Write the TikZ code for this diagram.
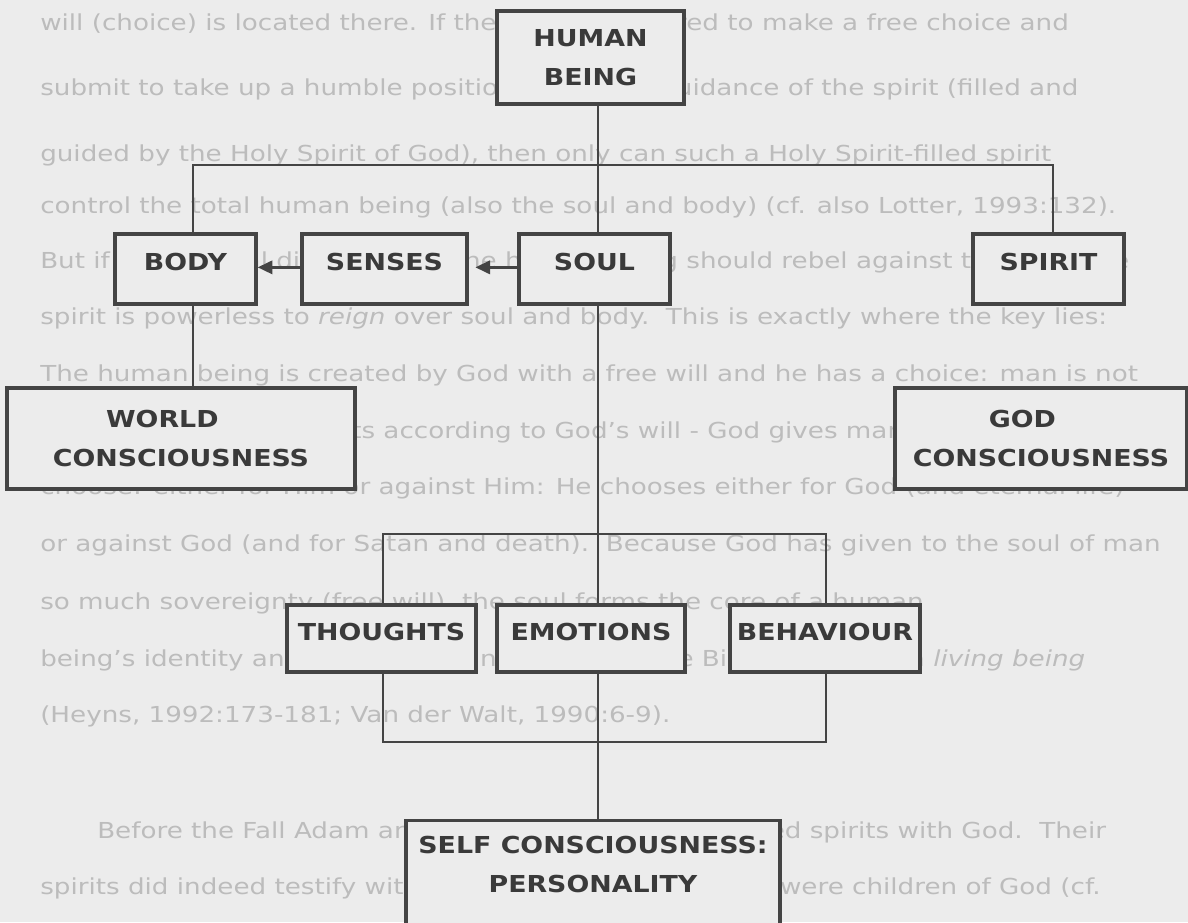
\documentclass[tikz,border=0pt]{standalone}
\usepackage{fontspec}
\setmainfont{DejaVu Sans}[FakeStretch=1.19]
\newfontfamily\labelfont{DejaVu Sans}[FakeStretch=1.15]
\usetikzlibrary{arrows.meta,calc}
\definecolor{paper}{RGB}{236,236,236}
\definecolor{faint}{RGB}{188,188,188}
\definecolor{ink}{RGB}{58,58,58}
\definecolor{rule}{RGB}{68,68,68}
\begin{document}
\begin{tikzpicture}[x=0.75pt,y=-0.75pt,
  box/.style={draw=rule, line width=2.6pt, fill=paper, text=ink,
    font=\labelfont\bfseries\fontsize{17.5}{29}\selectfont,
    align=center, inner sep=0pt},
  onebox/.style={box, text depth=10pt},
  link/.style={draw=rule, line width=1.9pt},
  arr/.style={link, -{Triangle[length=11pt,width=10pt]}},
  pageline/.style={anchor=base west, text=faint, inner sep=0pt,
    font=\fontsize{16.5}{21}\selectfont}]
\fill[paper] (0,0) rectangle (1188,922);
\useasboundingbox (0,0) rectangle (1188,922);

% running text of the page behind the chart
\node[pageline] (p1)  at (40,30)  {will (choice) is located there. If the man is prepared to make a free choice and};
\node[pageline] (p2)  at (40,95)  {submit to take up a humble position under the guidance of the spirit (filled and};
\node[pageline] (p3)  at (40,161) {guided by the Holy Spirit of God), then only can such a Holy Spirit-filled spirit};
\node[pageline] (p4)  at (40,213) {control the total human being (also the soul and body) (cf. also Lotter, 1993:132).};
\node[pageline] (p5)  at (40,268) {But if the soulical dimension of the human being should rebel against the spirit the};
\node[pageline] (p6)  at (40,324) {spirit is powerless to \textit{reign} over soul and body.\ \ This is exactly where the key lies:};
\node[pageline] (p7)  at (40,381) {The human being is created by God with a free will and he has a choice: man is not};
\node[pageline] (p8)  at (40,438) {a robot which simply acts according to God's will - God gives man a will to};
\node[pageline] (p9)  at (40,494) {choose: either for Him or against Him: He chooses either for God (and eternal life)};
\node[pageline] (p10) at (40,551) {or against God (and for Satan and death).\ \ Because God has given to the soul of man};
\node[pageline] (p11) at (40,609) {so much sovereignty (free will), the soul forms the core of a human};
\node[pageline] (p12) at (40,666) {being's identity and personality and therefore the Bible calls man a \textit{living being}};
\node[pageline] (p13) at (40,722) {(Heyns, 1992:173-181; Van der Walt, 1990:6-9).};
\node[pageline] (p14) at (97,838) {Before the Fall Adam and Eve lived as perfect kindred spirits with God.\ \ Their};
\node[pageline] (p15) at (40,894) {spirits did indeed testify with the Spirit of God that they were children of God (cf.};

% junction points of the connector lines
\coordinate (busL) at (193,165);
\coordinate (busM) at (598,165);
\coordinate (busR) at (1053,165);
\coordinate (topL) at (383,534);
\coordinate (topR) at (826,534);
\coordinate (botL) at (383,742);
\coordinate (botR) at (826,742);

% boxes
\node[box, minimum width=140.25pt, minimum height=69.75pt] (human) at (590.5,57.5) {HUMAN\\BEING};
\node[onebox, minimum width=105.75pt, minimum height=52.5pt] (body) at (185.5,269) {BODY};
\node[onebox, minimum width=123.75pt, minimum height=52.5pt] (senses) at (384.5,269) {SENSES};
\node[onebox, minimum width=113.25pt, minimum height=52.5pt] (soul) at (594.5,269) {SOUL};
\node[onebox, minimum width=113.25pt, minimum height=52.5pt] (spirit) at (1048.5,269) {SPIRIT};
\node[box, minimum width=261pt, minimum height=75.75pt] (world) at (181,438.5) {WORLD\hspace*{28pt}\mbox{}\\CONSCIOUSNESS};
\node[box, minimum width=219pt, minimum height=75.75pt] (god) at (1041,438.5) {GOD\hspace*{28pt}\mbox{}\\CONSCIOUSNESS};
\node[onebox, minimum width=141.75pt, minimum height=50.25pt] (thoughts) at (381.5,638.5) {THOUGHTS};
\node[onebox, minimum width=141pt, minimum height=50.25pt] (emotions) at (591,638.5) {EMOTIONS};
\node[onebox, minimum width=142.5pt, minimum height=50.25pt] (behaviour) at (825,638.5) {BEHAVIOUR};
\node[box, anchor=north, minimum width=280.5pt, inner ysep=11.5pt, text depth=80pt] (self) at (593,819) {SELF CONSCIOUSNESS:\\PERSONALITY};

% connectors between the boxes
\draw[link] (busL |- body.north) -- (busL) -- (busR) -- (busR |- spirit.north);
\draw[link] (busM |- human.south) -- (busM |- soul.north);
\draw[link] (busL |- body.south) -- (busL |- world.north);
\draw[link] (busM |- soul.south) -- (busM |- emotions.north);
\draw[link] (topL |- thoughts.north) -- (topL) -- (topR) -- (topR |- behaviour.north);
\draw[link] (botL |- thoughts.south) -- (botL) -- (botR) -- (botR |- behaviour.south);
\draw[link] (busM |- emotions.south) -- (busM |- self.north);

% arrows between the top row boxes
\draw[arr, shorten >=5pt] (soul.mid west) -- (senses.mid east);
\draw[arr] (senses.mid west) -- (body.mid east);
\end{tikzpicture}
\end{document}
